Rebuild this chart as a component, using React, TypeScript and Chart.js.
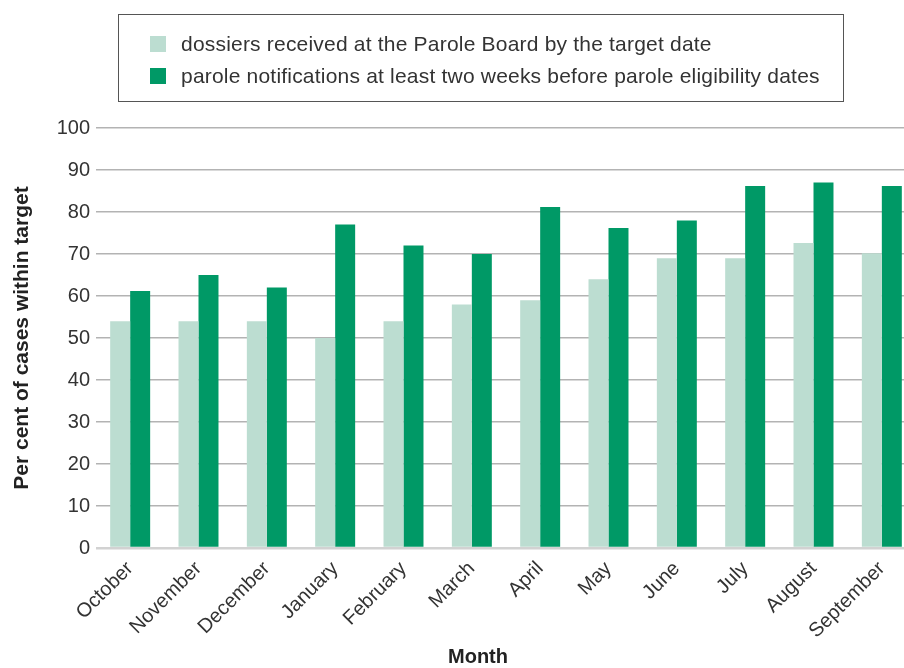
import React, { useEffect, useRef } from "react";
import { Chart, registerables } from "chart.js";

Chart.register(...registerables);

const months = [
  "October", "November", "December", "January", "February", "March",
  "April", "May", "June", "July", "August", "September",
];
const dossiersLabel = "dossiers received at the Parole Board by the target date";
const notificationsLabel = "parole notifications at least two weeks before parole eligibility dates";
const dossiers = [54, 54, 54, 50, 54, 58, 59, 64, 69, 69, 72.6, 70.2];
const notifications = [61.2, 65, 62, 77, 72, 70, 81.2, 76.2, 78, 86.2, 87, 86.2];
const yTitle = "Per cent of cases within target";
const xTitle = "Month";

const LIGHT = "#bcddd1";
const DARK = "#009966";
const FONT = "'Liberation Sans', Arial, Helvetica, sans-serif";
const TEXT = "#333333";

const boxLegendPlugin = {
  id: "boxLegend",
  afterDraw(chart: any) {
    const ctx = chart.ctx;
    ctx.save();
    ctx.strokeStyle = "#555555";
    ctx.lineWidth = 1;
    ctx.strokeRect(118.5, 14.5, 725, 87);
    const rows = [44, 76];
    chart.data.datasets.forEach((ds: any, i: number) => {
      ctx.fillStyle = ds.backgroundColor;
      ctx.fillRect(150, rows[i] - 8, 16, 16);
      ctx.fillStyle = TEXT;
      ctx.font = `21px ${FONT}`;
      try { (ctx as any).letterSpacing = "0.2px"; } catch (e) {}
      ctx.textBaseline = "alphabetic";
      ctx.textAlign = "left";
      ctx.fillText(ds.label, 181, rows[i] + 7);
    });
    try { (ctx as any).letterSpacing = "0px"; } catch (e) {}
    ctx.font = `bold 20px ${FONT}`;
    ctx.fillStyle = "#222222";
    ctx.textAlign = "center";
    ctx.textBaseline = "middle";
    ctx.fillText(xTitle, 478, 657);
    ctx.restore();
  },
};

export default function App() {
  const ref = useRef<HTMLCanvasElement | null>(null);
  useEffect(() => {
    if (!ref.current) return;
    const chart = new Chart(ref.current, {
      type: "bar",
      data: {
        labels: months,
        datasets: [
          { label: dossiersLabel, data: dossiers, backgroundColor: LIGHT },
          { label: notificationsLabel, data: notifications, backgroundColor: DARK },
        ],
      },
      options: {
        animation: false,
        responsive: false,
        maintainAspectRatio: false,
        layout: { padding: { top: 128, right: 4, bottom: 0, left: 0 } },
        datasets: { bar: { categoryPercentage: 0.585, barPercentage: 1 } },
        plugins: { legend: { display: false }, tooltip: { enabled: false } },
        scales: {
          x: {
            grid: { display: false, drawTicks: false },
            border: { display: false },
            ticks: {
              autoSkip: false,
              maxRotation: 45,
              minRotation: 45,
              padding: 9,
              color: TEXT,
              font: { family: FONT, size: 20 },
            },
            afterFit: (scale: any) => { scale.height = 120; },
          },
          y: {
            min: 0,
            max: 100,
            ticks: {
              stepSize: 10,
              padding: 6,
              color: TEXT,
              font: { family: FONT, size: 20 },
            },
            grid: {
              drawTicks: false,
              color: (c: any) => (c.tick && c.tick.value === 0 ? "#d2d2d2" : "#b3b3b3"),
              lineWidth: (c: any) => (c.tick && c.tick.value === 0 ? 2.5 : 1.5),
            },
            border: { display: false },
            title: {
              display: true,
              text: yTitle,
              color: "#222222",
              font: { family: FONT, size: 21, weight: "bold" },
              padding: { top: 10, bottom: 0 },
            },
            afterFit: (scale: any) => { scale.width = 96; },
          },
        },
      },
      plugins: [boxLegendPlugin],
    });
    return () => chart.destroy();
  }, []);
  return (
    <div style={{ position: "absolute", left: 0, top: 0, width: 904, height: 668, overflow: "hidden", background: "#fff" }}>
      <canvas ref={ref} width={920} height={668} />
    </div>
  );
}
